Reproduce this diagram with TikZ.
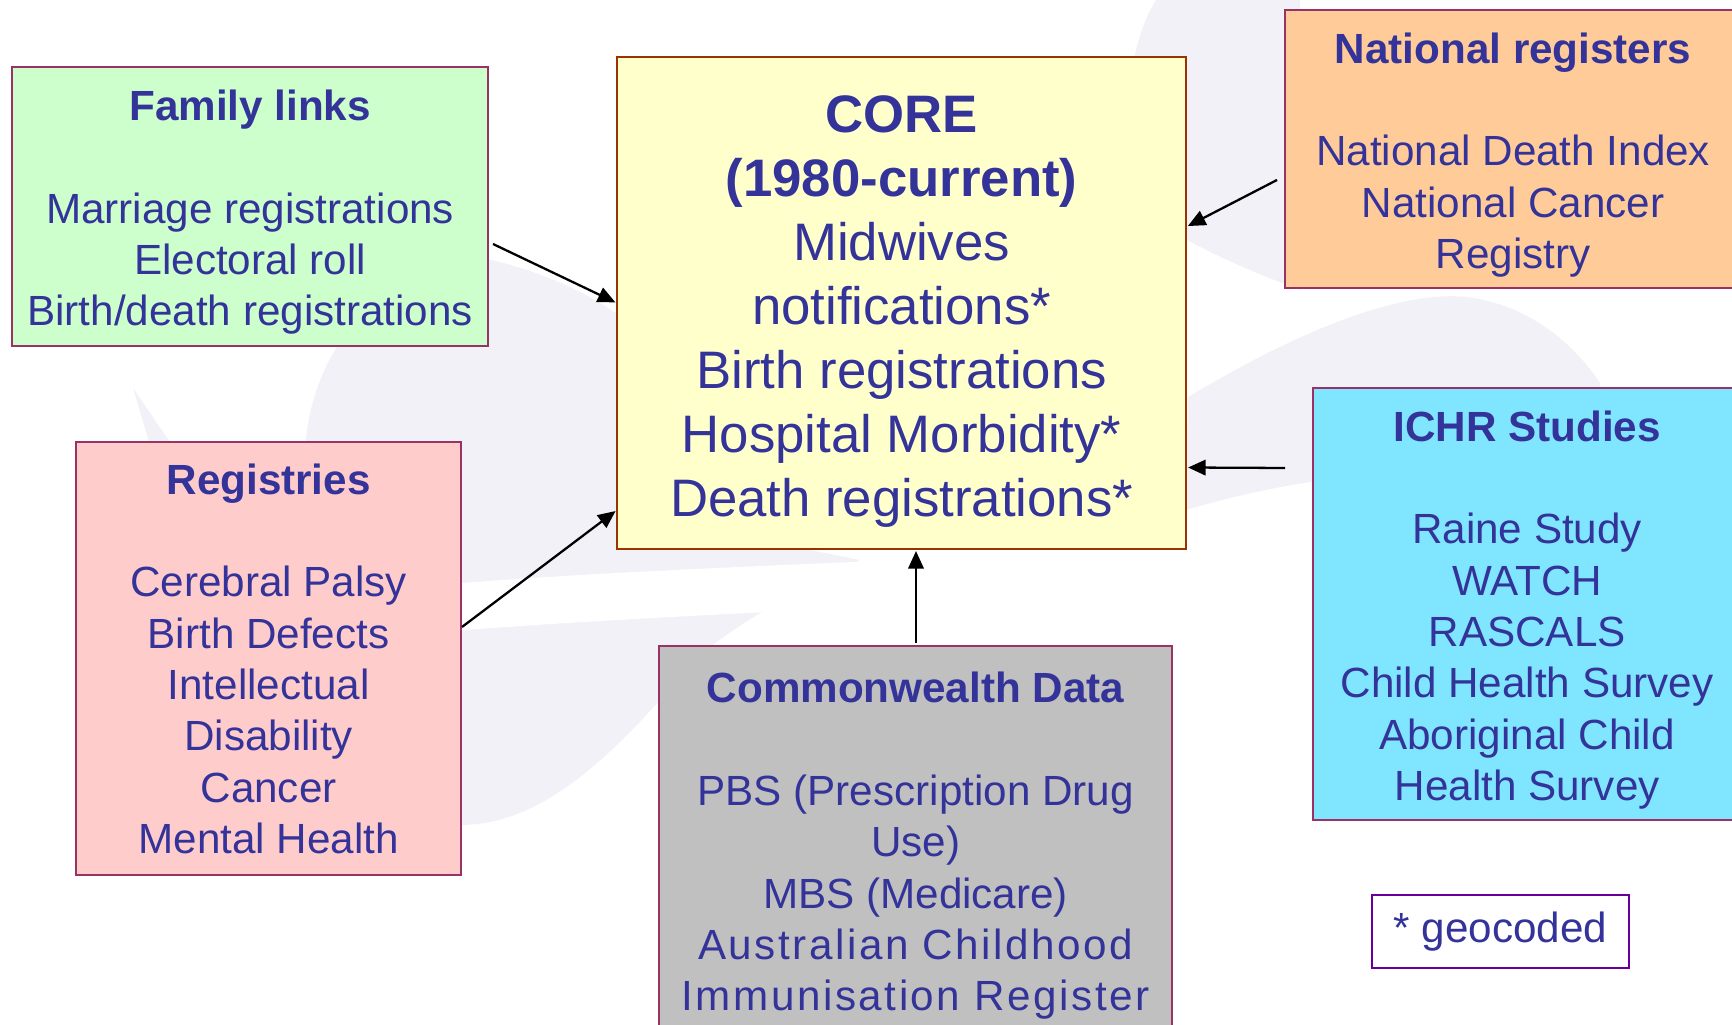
\documentclass[tikz,border=0pt]{standalone}
\usepackage{fontspec}
\setmainfont{Liberation Sans}
\usetikzlibrary{arrows.meta,calc}
\definecolor{inkblue}{RGB}{51,51,153}
\definecolor{boxrim}{RGB}{153,51,102}
\definecolor{corerim}{RGB}{153,51,0}
\definecolor{georim}{RGB}{102,0,153}
\definecolor{wmark}{RGB}{243,241,248}
\newcommand{\ttl}[1]{\rule{0pt}{1em}\textbf{#1}\\[\baselineskip]}

\begin{document}
\begin{tikzpicture}[
  x=0.01cm,y=-0.01cm,>=Stealth,
  every node/.style={font=\fontsize{12}{14.6}\selectfont,text=inkblue},
  src/.style={draw=boxrim,line width=0.6pt,anchor=north west,inner sep=0pt,outer sep=0pt,align=center},
  feed/.style={-{Triangle[length=5pt,width=4.4pt]},line width=0.65pt,shorten >=0.5pt}
]
  \useasboundingbox (0,0) rectangle (1732,1025);

  % faint logo in the background
  \fill[wmark] (305,470) .. controls (300,330) and (420,240) .. (500,262)
    .. controls (560,278) and (600,300) .. (640,330) -- (760,540) -- (860,560)
    .. controls (780,600) and (700,640) .. (660,700)
    .. controls (580,790) and (520,825) .. (460,825)
    .. controls (370,760) and (310,620) .. cycle;
  \fill[white] (440,585) .. controls (560,574) and (760,566) .. (900,560) -- (900,606)
    .. controls (760,612) and (560,622) .. (440,632) -- cycle;
  \fill[wmark] (1156,0) .. controls (1130,40) and (1120,120) .. (1120,250) -- (1187,240)
    .. controls (1220,258) and (1260,275) .. (1300,290) -- (1300,0) -- cycle;
  \fill[wmark] (1188,397) .. controls (1300,330) and (1400,290) .. (1467,297)
    .. controls (1530,305) and (1575,345) .. (1600,383) -- (1600,480) -- (1310,482)
    .. controls (1260,490) and (1220,500) .. (1186,510) -- cycle;
  \fill[wmark] (133,388) -- (150,445) -- (172,445) -- cycle;

  % centre box
  \node[src,draw=corerim,fill={rgb,255:red,255;green,255;blue,204},
        minimum width=5.69cm,minimum height=4.92cm,
        font=\fontsize{15}{18.2}\selectfont] (core) at (617,57)
    {\rule{0pt}{1em}\textbf{CORE}\\\textbf{(1980-current)}\\Midwives\\notifications*\\Birth registrations\\Hospital Morbidity*\\Death registrations*};

  % feeding sources
  \node[src,fill={rgb,255:red,204;green,255;blue,204},minimum width=4.76cm,minimum height=2.79cm] (family) at (12,67)
    {\ttl{Family links}Marriage registrations\\Electoral roll\\Birth/death registrations};
  \node[src,fill={rgb,255:red,255;green,204;blue,153},minimum width=4.56cm,minimum height=2.78cm] (natreg) at (1285,10)
    {\ttl{National registers}National Death Index\\National Cancer\\Registry};
  \node[src,fill={rgb,255:red,128;green,230;blue,255},minimum width=4.28cm,minimum height=4.32cm] (ichr) at (1313,388)
    {\ttl{ICHR Studies}Raine Study\\WATCH\\RASCALS\\Child Health Survey\\Aboriginal Child\\Health Survey};
  \node[src,fill={rgb,255:red,255;green,204;blue,204},minimum width=3.85cm,minimum height=4.33cm] (registries) at (76,442)
    {\textbf{Registries}\\[\baselineskip]Cerebral Palsy\\Birth Defects\\Intellectual\\Disability\\Cancer\\Mental Health};
  \node[src,fill={rgb,255:red,192;green,192;blue,192},minimum width=5.13cm,minimum height=3.88cm] (cwdata) at (659,646)
    {\ttl{Commonwealth Data}PBS (Prescription Drug\\Use)\\MBS (Medicare)\\
     {\addfontfeature{LetterSpace=6}Australian Childhood}\\{\addfontfeature{LetterSpace=6}Immunisation Register}};

  % legend
  \node[src,draw=georim,fill=white,minimum width=2.57cm,minimum height=0.73cm] (geo) at (1372,895) {* geocoded};

  % arrow tails sit just off the source boxes
  \coordinate (famOut)  at (493,244);
  \coordinate (regOut)  at (462,627);
  \coordinate (natOut)  at (1277,180);
  \coordinate (ichrOut) at (1285,468);
  \coordinate (cwOut)   at (916,643);

  \draw[feed] (famOut)  -- (core.180.8);
  \draw[feed] (regOut)  -- (core.216.8);
  \draw[feed] (natOut)  -- (core.15);
  \draw[feed] (ichrOut) -- (core.-30.1);
  \draw[feed] (cwOut)   -- (cwOut |- core.south);
\end{tikzpicture}
\end{document}
